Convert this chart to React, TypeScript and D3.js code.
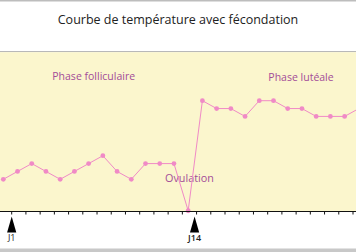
import React from "react";
import * as d3 from "d3";

const W = 356;
const H = 252;

const title = "Courbe de température avec fécondation";
const temps = [
  36.3, 36.4, 36.5, 36.4, 36.3, 36.4, 36.5, 36.6, 36.4, 36.3, 36.5, 36.5, 36.5,
  35.9, 37.3, 37.2, 37.2, 37.1, 37.3, 37.3, 37.2, 37.2, 37.1, 37.1, 37.1, 37.2,
];
const tickDays = d3.range(1, 26);
const markerDays = [1, 14];
const markerLabels = ["J1", "J14"];
const phaseLabels = ["Phase folliculaire", "Phase lutéale", "Ovulation"];

export default function App() {
  const x = d3.scaleLinear().domain([1, 25]).range([11.7, 353]);
  const pointShift = -0.59;
  const y = d3.scaleLinear().domain([36.3, 37.3]).range([179.3, 100.7]);
  const px = (i: number) => x(i + 1 + pointShift);
  const line = d3
    .line<number>()
    .x((_, i) => px(i))
    .y((d) => y(d));
  const axisY = 211.5;
  const font = "'Open Sans', sans-serif";
  const pink = "#f08ac6";
  const purple = "#a34c98";
  return (
    <svg
      width={W}
      height={H}
      style={{ position: "absolute", left: 0, top: 0, display: "block" }}
    >
      <rect x={0} y={0} width={W} height={H} fill="#ffffff" />
      <rect x={0} y={0} width={W} height={1.5} fill="#bdbdbd" />
      <text
        x={178}
        y={24}
        textAnchor="middle"
        fontFamily={font}
        fontSize={12.5}
        fill="#222"
      >
        {title}
      </text>
      <rect x={0} y={51} width={W} height={1.2} fill="#b8b8b8" />
      <rect x={0} y={52.2} width={W} height={axisY - 52.2} fill="#fbf6cd" />
      <text x={93.7} y={79.5} textAnchor="middle" fontFamily={font} fontSize={10.5} fill={purple}>
        {phaseLabels[0]}
      </text>
      <text x={301} y={80.5} textAnchor="middle" fontFamily={font} fontSize={10.5} fill={purple}>
        {phaseLabels[1]}
      </text>
      <text x={189.5} y={181.5} textAnchor="middle" fontFamily={font} fontSize={10.8} fill={purple}>
        {phaseLabels[2]}
      </text>
      <path d={line(temps) ?? ""} fill="none" stroke={pink} strokeWidth={1} />
      {temps.map((t, i) => (
        <circle key={i} cx={px(i)} cy={y(t)} r={2.4} fill={pink} />
      ))}
      <line x1={0} x2={W} y1={axisY} y2={axisY} stroke="#111" strokeWidth={1} />
      {tickDays.map((d) => (
        <line key={d} x1={x(d)} x2={x(d)} y1={axisY} y2={axisY + 3} stroke="#111" strokeWidth={1} />
      ))}
      {markerDays.map((d, i) => (
        <g key={d}>
          <path
            d={`M${x(d) - (i === 1 ? 2 : 0)},${216.5} L${x(d) - (i === 1 ? 2 : 0) + 4.6},${232.5} L${x(d) - (i === 1 ? 2 : 0) - 4.6},${232.5} Z`}
            fill="#000"
          />
          <text
            x={x(d) - (i === 1 ? 2 : 0)}
            y={241}
            textAnchor="middle"
            fontFamily={font}
            fontSize={9}
            fontWeight={i === 1 ? 600 : 400}
            fill="#222"
          >
            {markerLabels[i]}
          </text>
        </g>
      ))}
      <rect x={0} y={248.5} width={W} height={H - 248.5} fill="#c8c8c8" />
    </svg>
  );
}
